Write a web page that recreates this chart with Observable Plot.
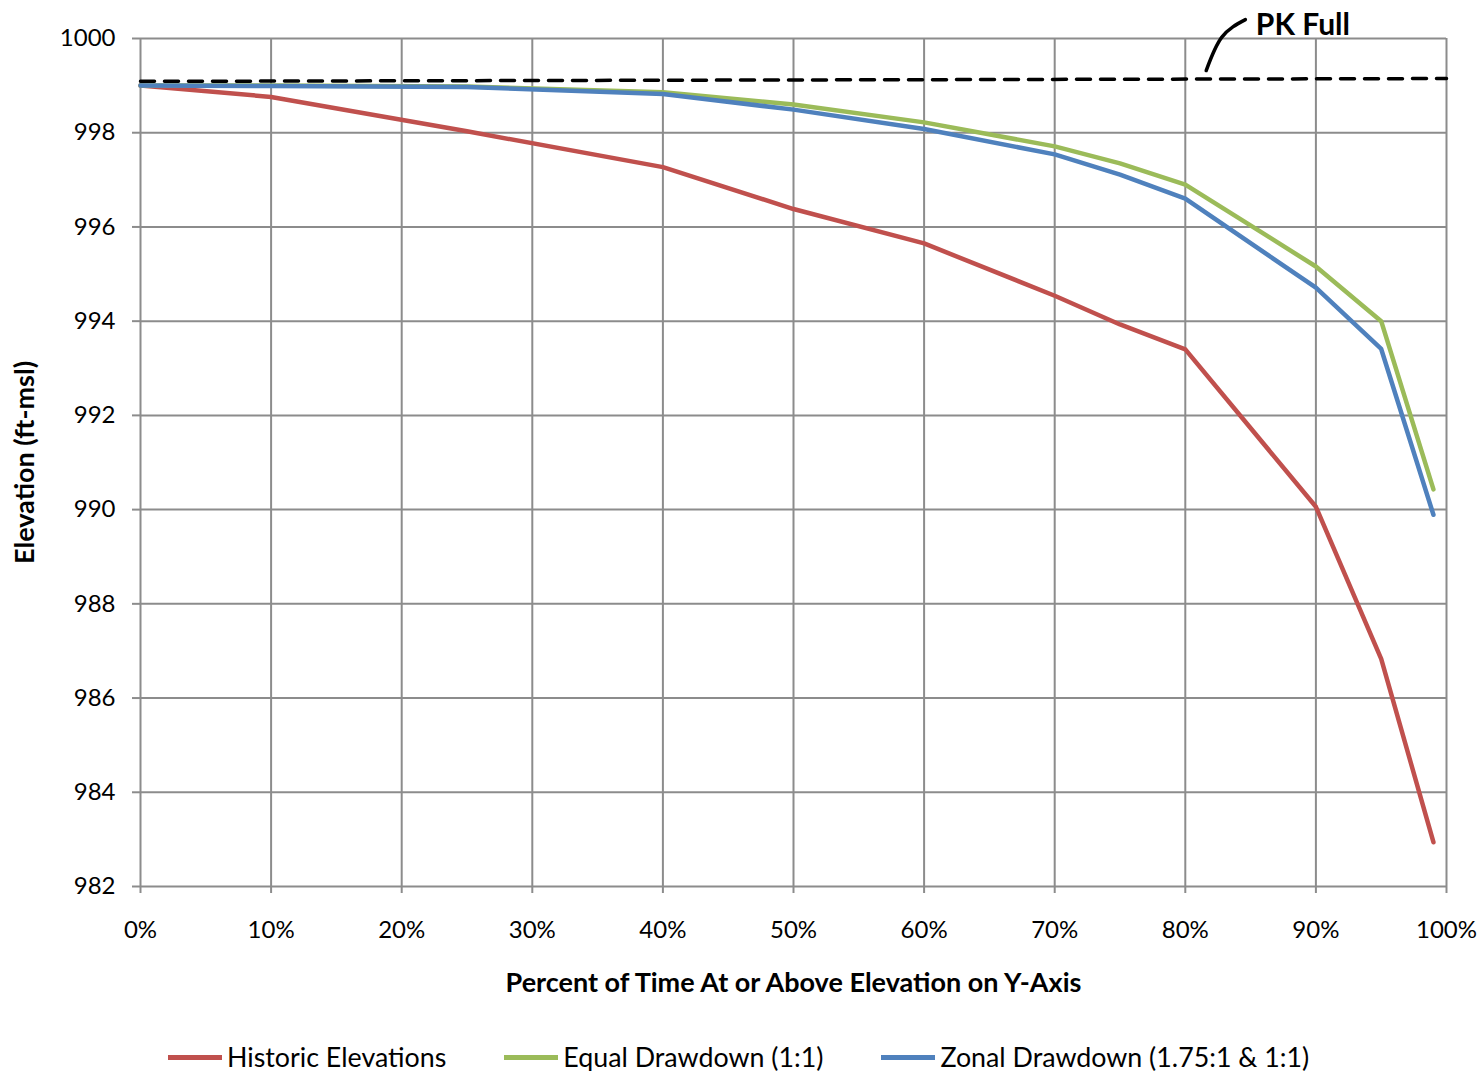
<!DOCTYPE html>
<html>
<head>
<meta charset="utf-8">
<script src="https://cdn.jsdelivr.net/npm/d3@7"></script>
<script src="https://cdn.jsdelivr.net/npm/@observablehq/plot@0.6"></script>
<style>
  html, body { margin: 0; padding: 0; background: #fff; }
  body { font-family: Lato, "Open Sans", sans-serif; width: 1479px; }
  #legend { display: flex; align-items: center; padding-left: 168px; margin-top: 7px; height: 30px; font-size: 26.8px; color: #000; }
  #legend .item { display: flex; align-items: center; margin-right: 58px; }
  #legend .swatch { width: 54px; height: 5px; margin-right: 5px; }
</style>
</head>
<body>
<div id="chart"></div>
<div id="legend"></div>
<script>
// ---- data ----
const pct = [0, 10, 25, 40, 50, 60, 70, 75, 80, 90, 95, 99];
const historic = [999.0, 998.76, 998.03, 997.27, 996.38, 995.65, 994.54, 993.93, 993.40, 990.06, 986.83, 982.94];
const equalDD = [999.0, 999.0, 998.98, 998.86, 998.60, 998.22, 997.71, 997.35, 996.90, 995.16, 994.00, 990.43];
const zonalDD = [999.0, 998.99, 998.97, 998.82, 998.49, 998.08, 997.54, 997.11, 996.60, 994.71, 993.41, 989.89];
const pkX = [0, 100];
const pkY = [999.09, 999.15];
const seriesNames = ["Historic Elevations", "Equal Drawdown (1:1)", "Zonal Drawdown (1.75:1 & 1:1)"];
const seriesColors = ["#C0504D", "#9BBB59", "#4F81BD"];
const xTicks = [0, 10, 20, 30, 40, 50, 60, 70, 80, 90, 100];
const yTicks = [982, 984, 986, 988, 990, 992, 994, 996, 998, 1000];
const xTitle = "Percent of Time At or Above Elevation on Y-Axis";
const yTitle = "Elevation (ft-msl)";
const pkLabel = "PK Full";
const pkLeaderX = [81.6, 82.8, 84.6];
const pkLeaderY = [999.32, 1000.03, 1000.40];
const pkLabelPos = {x: 85.4, y: 1000.28};

// ---- build rows ----
const allSeries = [historic, equalDD, zonalDD];
const rows = [];
allSeries.forEach((vals, si) => vals.forEach((v, i) => rows.push({series: seriesNames[si], p: pct[i], v})));
const pkRows = pkX.map((x, i) => ({p: x, v: pkY[i]}));
const leaderRows = pkLeaderX.map((x, i) => ({p: x, v: pkLeaderY[i]}));

const gridColor = "#8c8c8c";

const chart = Plot.plot({
  width: 1479,
  height: 1035,
  marginLeft: 140,
  marginRight: 33,
  marginTop: 38,
  marginBottom: 149,
  style: {fontFamily: "Lato, 'Open Sans', sans-serif", fontSize: "24px", color: "#000", background: "#fff", overflow: "visible"},
  x: {domain: [0, 100]},
  y: {domain: [982, 1000]},
  color: {domain: seriesNames, range: seriesColors},
  marks: [
    Plot.gridX(xTicks, {stroke: gridColor, strokeOpacity: 1, strokeWidth: 2}),
    Plot.gridY(yTicks, {stroke: gridColor, strokeOpacity: 1, strokeWidth: 2}),
    Plot.axisX({ticks: xTicks, tickFormat: d => d + "%", tickSize: 7, tickPadding: 27, stroke: gridColor, strokeWidth: 2, fill: "#000", label: null}),
    Plot.axisY({ticks: yTicks, tickFormat: d => String(d), tickSize: 8, tickPadding: 17, stroke: gridColor, strokeWidth: 2, fill: "#000", label: null}),
    Plot.line(pkRows, {x: "p", y: "v", stroke: "#000", strokeWidth: 3.5, strokeDasharray: "14 10"}),
    Plot.line(rows, {x: "p", y: "v", z: "series", stroke: "series", strokeWidth: 4.5, strokeLinejoin: "round", strokeLinecap: "round"}),
    Plot.line(leaderRows, {x: "p", y: "v", curve: "natural", stroke: "#000", strokeWidth: 3.5, strokeLinecap: "round"}),
    Plot.text([pkLabel], {x: pkLabelPos.x, y: pkLabelPos.y, text: d => d, textAnchor: "start", fontWeight: "bold", fontSize: 30, fill: "#000"}),
    Plot.text([xTitle], {frameAnchor: "bottom", dy: 105, text: d => d, fontWeight: "bold", fontSize: 27, fill: "#000"}),
    Plot.text([yTitle], {frameAnchor: "left", dx: -115, rotate: -90, textAnchor: "middle", text: d => d, fontWeight: "bold", fontSize: 27, fill: "#000"})
  ]
});
document.getElementById("chart").appendChild(chart);

// ---- legend ----
const legend = document.getElementById("legend");
seriesNames.forEach((name, i) => {
  const item = document.createElement("div");
  item.className = "item";
  const sw = document.createElement("span");
  sw.className = "swatch";
  sw.style.background = seriesColors[i];
  const label = document.createElement("span");
  label.textContent = name;
  item.appendChild(sw);
  item.appendChild(label);
  legend.appendChild(item);
});
</script>
</body>
</html>
